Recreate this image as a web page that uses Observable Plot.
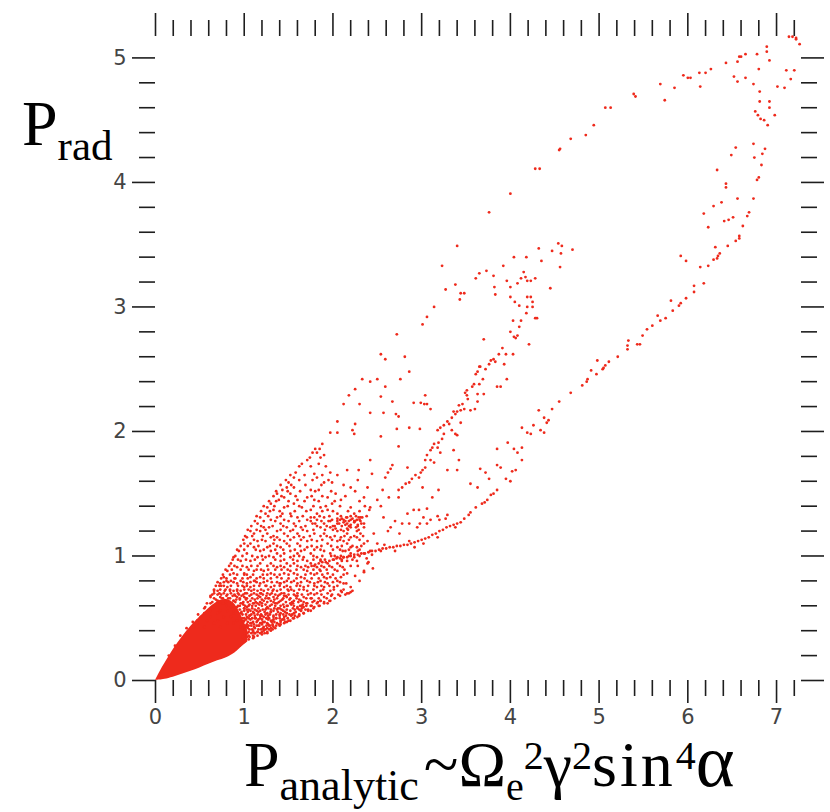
<!DOCTYPE html>
<html><head><meta charset="utf-8">
<script src="https://cdn.jsdelivr.net/npm/d3@7"></script>
<script src="https://cdn.jsdelivr.net/npm/@observablehq/plot@0.6"></script>
<style>
body{margin:0;background:#fff;}
#chart{width:830px;height:812px;}
</style></head><body><div id="chart"></div>
<script>
// ---- tick values ----
const xMajorTicks = [0,1,2,3,4,5,6,7];
const xMinorTicks = [0.2,0.4,0.6,0.8,1.2,1.4,1.6,1.8,2.2,2.4,2.6,2.8,3.2,3.4,3.6,3.8,4.2,4.4,4.6,4.8,5.2,5.4,5.6,5.8,6.2,6.4,6.6,6.8,7.2];
const yMajorTicks = [0,1,2,3,4,5];
const yMinorTicks = [0.2,0.4,0.6,0.8,1.2,1.4,1.6,1.8,2.2,2.4,2.6,2.8,3.2,3.4,3.6,3.8,4.2,4.4,4.6,4.8];

// ---- saturated core near the origin (x, lower edge, upper edge) ----
const coreX    = [0, 0.05, 0.1, 0.2, 0.3, 0.4, 0.5, 0.6, 0.7, 0.8, 0.9, 0.97, 1.04];
const coreLow  = [0, 0.003, 0.008, 0.025, 0.05, 0.075, 0.10, 0.13, 0.16, 0.18, 0.22, 0.27, 0.31];
const coreHigh = [0, 0.07, 0.13, 0.25, 0.35, 0.44, 0.51, 0.58, 0.64, 0.66, 0.62, 0.52, 0.40];

// ---- scattered cloud, read row by row: [y, [x...]] ----
const cloudRows = [
 [1.90,[1.88]],[1.83,[1.77,1.82]],[1.81,[1.90]],[1.77,[1.71,2.42]],[1.74,[1.65,1.84]],
 [1.69,[2.16,2.29]],[1.67,[1.58,1.97]],[1.66,[1.79,2.44]],[1.63,[1.56,1.82]],
 [1.59,[1.50,1.90,1.99]],[1.55,[1.48,1.56,2.20,2.39]],[1.53,[1.43,1.75,1.84]],
 [1.50,[1.37,1.52,2.03]],[1.47,[1.45,1.71,1.94,2.35]],[1.45,[1.39,1.60,1.79,2.09,2.50]],
 [1.42,[1.30,1.56,1.99]],[1.39,[1.26,1.45,1.65,1.86,2.20,2.42]],[1.37,[1.33,1.75,1.94,2.41]],
 [1.34,[1.24,1.43,1.52,1.82,2.05,2.24]],[1.31,[1.18,1.37,1.60,1.75,1.79,1.90,2.16,2.29,2.33]],
 [1.29,[1.30,1.45,1.71,1.82,1.99,2.12,2.20,2.27]],[1.26,[1.15,1.41,1.56,1.77,1.80,1.90,2.07,2.16,2.35]],
 [1.23,[1.22,1.28,1.48,1.64,1.86,1.97,2.20,2.26]],[1.20,[1.07,1.18,1.37,1.52,1.71,2.05,2.12]],
 [1.18,[1.11,1.26,1.45,1.60,1.79,1.90,2.16,2.31,2.46]],[1.15,[1.03,1.30,1.37,1.56,1.67,1.97,2.09,2.20,2.27]],
 [1.12,[1.15,1.24,1.45,1.71,1.82,2.05,2.12,2.39]],[1.10,[1.00,1.07,1.33,1.48,1.60,1.94,2.16,2.35,2.50]],
 [1.07,[1.11,1.26,1.41,1.71,1.82,2.05,2.20,2.27]],[1.04,[0.94,1.18,1.30,1.52,1.64,1.90,2.11,2.14,2.42,2.54]],
 [1.02,[1.03,1.37,1.45,1.60,1.75,1.97,2.20,2.35]],[0.99,[0.88,1.15,1.24,1.33,1.52,1.67,1.82,2.05,2.12,2.24]],
 [0.96,[0.96,1.07,1.41,1.60,1.71,1.86,2.16,2.27]],[0.94,[0.85,1.18,1.30,1.48,1.56,1.75,1.94,2.05,2.39]],
 [0.91,[0.92,1.03,1.37,1.45,1.64,1.82,1.90,1.99,2.11]],[0.88,[0.81,1.11,1.22,1.52,1.71,1.86,2.05,2.35]],
 [0.86,[0.88,1.00,1.30,1.45,1.56,1.75,1.82,1.94,2.16]],[0.83,[0.77,1.07,1.18,1.37,1.64,1.90,1.97,2.09]],
 [0.80,[0.85,0.96,1.11,1.26,1.48,1.56,1.71,1.86,2.05]],[0.78,[0.73,0.92,1.03,1.18,1.41,1.60,1.79,1.94,2.12]],
 [0.75,[0.81,1.00,1.07,1.30,1.45,1.52,1.67,1.82,1.90,2.01]],[0.72,[0.70,0.88,0.96,1.15,1.22,1.37,1.56,1.71,1.86,1.97,2.09]],
 [0.70,[0.66,0.77,0.85,1.03,1.11,1.26,1.45,1.60,1.75,1.82,1.94,2.16]],[0.67,[0.62,0.73,0.92,1.00,1.18,1.33,1.48,1.67,1.90]],
 [0.64,[0.70,0.81,0.88,1.07,1.22,1.30,1.41,1.56,1.64,1.79,1.86,1.97]],[0.62,[0.58,0.77,0.96,1.11,1.15,1.37,1.52,1.71,1.82,1.94]],
 [0.59,[0.56,0.66,0.85,0.92,1.03,1.26,1.45,1.60,1.67,1.79]],[0.56,[0.62,0.73,0.81,1.00,1.07,1.18,1.33,1.52,1.64,1.75]],
 [0.54,[0.55,0.70,0.88,0.96,1.11,1.26,1.41,1.48,1.56,1.67]],[0.51,[0.51,0.62,0.77,0.85,1.03,1.22,1.33,1.45,1.60]],
 [0.48,[0.47,0.58,0.70,0.92,1.00,1.15,1.30,1.41,1.52]],[0.46,[0.47,0.66,0.81,0.88,1.07,1.18,1.26,1.37,1.45]],
 [0.43,[0.43,0.55,0.73,0.96,1.03,1.11,1.22,1.33]]
];
// ---- second pass over the same cloud (rows between the first ones) ----
const cloudRows2 = [
 [1.86,[1.80,1.85]],[1.79,[1.74,1.86]],[1.72,[1.62,1.75,1.92]],[1.65,[1.52,1.68,1.88,2.05]],
 [1.61,[1.47,1.62,1.77,1.95,2.28]],[1.57,[1.41,1.53,1.69,1.87,2.12]],[1.52,[1.36,1.49,1.63,1.80,1.98,2.25]],
 [1.48,[1.33,1.42,1.58,1.76,1.88,2.14]],[1.44,[1.28,1.36,1.50,1.68,1.84,2.02,2.30]],
 [1.40,[1.22,1.34,1.49,1.62,1.78,1.92,2.08,2.36]],[1.36,[1.19,1.29,1.40,1.57,1.70,1.88,2.00,2.17,2.30]],
 [1.32,[1.14,1.27,1.41,1.53,1.66,1.85,1.96,2.09,2.20,2.38]],[1.28,[1.12,1.22,1.35,1.50,1.62,1.75,1.87,1.95,2.05,2.14,2.24,2.31]],
 [1.24,[1.08,1.19,1.32,1.44,1.58,1.69,1.82,1.93,2.02,2.10,2.18,2.28]],[1.21,[1.04,1.14,1.24,1.41,1.55,1.66,1.78,1.91,2.00,2.09,2.17,2.29]],
 [1.16,[1.01,1.09,1.21,1.33,1.49,1.62,1.74,1.86,1.93,2.02,2.13,2.24,2.34]],[1.13,[0.99,1.11,1.20,1.34,1.40,1.52,1.64,1.76,1.88,1.99,2.08,2.18,2.30]],
 [1.08,[0.96,1.04,1.16,1.29,1.37,1.51,1.63,1.76,1.87,1.98,2.10,2.22,2.32]],[1.05,[0.92,1.00,1.13,1.22,1.35,1.44,1.57,1.68,1.79,1.86,2.00,2.08,2.18,2.30]],
 [1.00,[0.90,0.98,1.09,1.20,1.28,1.41,1.56,1.62,1.78,1.88,1.98,2.09,2.18,2.30]],[0.97,[0.87,0.93,1.02,1.12,1.21,1.35,1.45,1.55,1.66,1.78,1.91,2.01,2.10,2.22]],
 [0.92,[0.83,0.89,0.98,1.08,1.15,1.26,1.33,1.41,1.52,1.60,1.69,1.79,1.87,1.96,2.08,2.20]],
 [0.89,[0.79,0.86,0.96,1.05,1.14,1.19,1.27,1.35,1.42,1.49,1.59,1.67,1.78,1.85,1.93,2.02,2.13]],
 [0.85,[0.76,0.84,0.92,1.03,1.10,1.21,1.26,1.34,1.40,1.50,1.60,1.69,1.79,1.88,2.00,2.12]],
 [0.82,[0.74,0.80,0.89,0.98,1.04,1.14,1.22,1.30,1.42,1.50,1.59,1.68,1.76,1.84,1.93,2.03]],
 [0.79,[0.70,0.77,0.82,0.88,0.99,1.07,1.14,1.22,1.31,1.37,1.45,1.53,1.64,1.74,1.83,1.91,2.00,2.08]],
 [0.76,[0.68,0.74,0.77,0.85,0.93,1.03,1.11,1.17,1.25,1.34,1.40,1.48,1.59,1.63,1.72,1.79,1.87,1.96,2.05]],
 [0.73,[0.66,0.73,0.79,0.84,0.92,1.00,1.05,1.11,1.19,1.27,1.33,1.41,1.49,1.53,1.62,1.67,1.78,1.89,2.01,2.12]],
 [0.69,[0.64,0.70,0.74,0.81,0.89,0.94,0.99,1.08,1.14,1.21,1.29,1.35,1.40,1.50,1.56,1.65,1.72,1.79,1.87,1.99,2.06]],
 [0.66,[0.66,0.76,0.84,0.95,1.03,1.09,1.15,1.24,1.27,1.37,1.44,1.52,1.59,1.70,1.76,1.84,1.93]],
 [0.63,[0.64,0.72,0.79,0.90,0.99,1.04,1.13,1.18,1.26,1.33,1.39,1.47,1.54,1.61,1.67,1.77,1.83,1.90]],
 [0.60,[0.88,0.95,1.01,1.09,1.13,1.20,1.29,1.35,1.41,1.49,1.56,1.63,1.70,1.76,1.85]],
 [0.57,[0.95,1.03,1.05,1.12,1.21,1.24,1.30,1.37,1.42,1.48,1.57,1.62,1.69,1.72]],
 [0.53,[0.98,1.02,1.08,1.15,1.19,1.24,1.29,1.36,1.44,1.51,1.54,1.62]],
 [0.50,[0.98,1.05,1.09,1.13,1.18,1.25,1.28,1.36,1.40,1.49,1.55]],
 [0.47,[0.99,1.04,1.10,1.14,1.21,1.23,1.31,1.34,1.41,1.48]],
 [0.44,[1.00,1.05,1.08,1.14,1.17,1.25,1.29,1.36,1.40]],
 [0.41,[1.01,1.06,1.09,1.16,1.19,1.24,1.28,1.32]],
 [0.38,[1.00,1.03,1.08,1.12,1.18,1.23]],
 [0.35,[0.98,1.02,1.06,1.11]]
];
// ---- densest part of the cloud, just right of the core ----
const denseRows = [
 [0.70,[0.93,1.01,1.19,1.31,1.42]],
 [0.68,[0.87,0.97,1.06,1.16,1.25,1.38,1.47,1.58]],
 [0.65,[0.91,1.02,1.12,1.20,1.34,1.43,1.51,1.62]],
 [0.61,[0.99,1.06,1.17,1.24,1.31,1.44,1.53,1.66]],
 [0.58,[1.00,1.09,1.16,1.27,1.34,1.40,1.55,1.65]],
 [0.55,[1.04,1.10,1.16,1.23,1.30,1.38,1.46,1.58]],
 [0.52,[1.06,1.12,1.20,1.27,1.33,1.40,1.47,1.57]],
 [0.49,[1.02,1.07,1.16,1.20,1.27,1.33,1.45]],
 [0.45,[1.03,1.11,1.20,1.27,1.32,1.39]],
 [0.42,[1.04,1.12,1.21,1.26,1.30]],
 [0.39,[1.05,1.10,1.15,1.20,1.26]]
];

// ---- dense fringe round the core ----
const fringePts = [[0.15,0.2],[0.22,0.28],[0.28,0.36],[0.35,0.42],[0.42,0.47],[0.48,0.53],[0.55,0.58],[0.62,0.62],[0.68,0.65],[0.75,0.66],[0.82,0.66],[0.88,0.64],[0.93,0.6],[0.97,0.55],[1.0,0.5],[1.02,0.44],[1.03,0.38],[1.0,0.34],[0.95,0.28],[0.9,0.25],
 [0.62,0.68],[0.66,0.72],[0.7,0.64],[0.72,0.7],[0.78,0.72],[0.8,0.68],[0.84,0.72],[0.86,0.62],[0.9,0.68],[0.92,0.72],[0.95,0.65],[0.98,0.62],[1.02,0.66],[1.05,0.6],[1.06,0.52],[1.08,0.46],[1.1,0.4],[1.12,0.5],[1.14,0.56],[1.16,0.44],[1.18,0.52],[1.2,0.46],[1.22,0.4],[1.25,0.5],[1.28,0.44],[1.3,0.55],[1.05,0.36],[1.1,0.36],[1.15,0.39],[0.98,0.42],[1.0,0.58],[0.88,0.56],[0.8,0.6],[0.76,0.62],[1.1,0.62],[1.2,0.62],[1.25,0.58],[1.32,0.48],[1.36,0.5],[1.4,0.53],[1.44,0.56],[1.48,0.6],[1.38,0.58],[1.35,0.62],[1.28,0.66],[1.18,0.7],[1.08,0.72],[0.98,0.76],[0.72,0.76],[0.8,0.8],[0.9,0.82],[1.0,0.85],[1.12,0.8],[1.24,0.76],[1.32,0.72],[1.45,0.68],[1.55,0.62],[1.6,0.58],[1.65,0.6],[1.7,0.62],[1.75,0.66],[1.6,0.68],[1.5,0.72],[1.4,0.78]];

// ---- lower edge of the cloud ----
const lowerEdgePts = [[1.0,0.31],[1.05,0.33],[1.1,0.34],[1.15,0.36],[1.2,0.37],[1.26,0.38],[1.3,0.40],[1.35,0.42],[1.41,0.45],[1.46,0.47],[1.5,0.48],[1.56,0.50],[1.62,0.52],[1.67,0.54],[1.72,0.56],[1.78,0.58],[1.84,0.60],[1.9,0.62],[1.96,0.64],[2.02,0.66],[2.08,0.68],[2.14,0.69],[2.2,0.71],
 [1.03,0.35],[1.12,0.38],[1.22,0.41],[1.32,0.44],[1.43,0.49],[1.53,0.52],[1.64,0.56],[1.75,0.60],[1.86,0.64],[1.98,0.68],[2.1,0.71],
 [2.15,0.78],[2.2,0.75],[2.25,0.84],[2.28,0.92],[2.3,0.8],[2.35,0.87],[2.4,0.95],[2.45,0.9],[2.22,0.72],[2.18,0.70]];

// ---- arm near y = 1.3 ----
const armPts = [[1.97,1.28],[2.0,1.24],[2.03,1.22],[2.05,1.26],[2.08,1.29],[2.1,1.30],[2.12,1.27],[2.14,1.25],[2.16,1.22],[2.18,1.28],[2.2,1.25],[2.22,1.30],[2.24,1.27],[2.25,1.28],[2.27,1.20],[2.28,1.25],[2.3,1.29],[2.31,1.31],[2.32,1.26],[2.35,1.23],[2.05,1.30],[2.15,1.31],[2.26,1.32],
 [2.84,1.71],[2.91,1.37],[3.02,1.31],[2.57,1.31],[2.70,1.28],[2.62,1.20],[2.75,1.18]];

// ---- arc near y = 1 and its rise to the lower band ----
const arcPts = [[1.72,0.91],[1.76,0.92],[1.80,0.93],[1.84,0.94],[1.88,0.95],[1.92,0.95],[1.96,0.96],[2.00,0.97],[2.04,0.98],[2.08,0.98],[2.12,0.99],[2.16,0.99],[2.20,1.00],[2.24,1.01],[2.28,1.01],[2.32,1.02],[2.36,1.02],[2.40,1.03],[2.44,1.04],[2.48,1.04],[2.52,1.05],[2.56,1.06],[2.60,1.06],[2.64,1.07],[2.68,1.07],[2.72,1.08],[2.76,1.08],[2.80,1.09],[2.84,1.09],[2.88,1.10],[2.92,1.11],[2.96,1.12],[3.00,1.13],[3.04,1.14],[3.08,1.15],[3.12,1.17],[3.16,1.18],[3.20,1.20],[3.24,1.21],[3.28,1.23],[3.32,1.24],
 [1.86,0.97],[2.02,1.00],[2.10,0.96],[2.28,1.04],[2.44,1.01],[2.58,1.09],[2.70,1.04],[2.86,1.12],[3.02,1.10],[3.18,1.15],[2.38,0.98],[2.92,1.07],
 [2.65,1.23],[2.78,1.26],[2.86,1.26],[2.95,1.23],[2.98,1.26],[3.06,1.26],[3.10,1.29],[3.18,1.32],[3.20,1.29],[3.27,1.30],[3.29,1.33],[3.36,1.25],[3.38,1.23],[3.40,1.26],[3.44,1.27],[3.48,1.30],[3.53,1.33],[3.55,1.35],[3.61,1.39],[3.68,1.42],[3.71,1.43],[3.74,1.45],[3.78,1.49],[3.81,1.50],[3.85,1.53]];

// ---- lower right band ----
const lowerBandPts = [[3.76,1.62],[3.95,1.62],[4.00,1.60],[4.06,1.69],[4.02,1.68],[4.13,1.77],[4.04,1.86],[4.08,1.83],[4.13,1.87],[3.85,1.86],[3.85,1.73],[3.89,1.71],[3.97,1.91],[3.66,1.70],[3.72,1.67],[4.13,2.03],[4.19,1.99],[4.23,1.98],[4.26,2.05],[4.32,2.17],[4.38,2.11],[4.41,2.07],[4.43,2.09],[4.34,2.01],[4.38,1.99],[4.47,2.18],[4.55,2.24],[4.68,2.31],
 [4.81,2.37],[4.87,2.42],[4.86,2.40],[4.97,2.46],[4.91,2.49],[4.98,2.57],[5.04,2.50],[5.05,2.51],[5.07,2.53],[5.11,2.56],[5.21,2.60],[5.32,2.66],[5.32,2.69],[5.33,2.73],[5.43,2.70],[5.46,2.70],[5.49,2.77],[5.54,2.82],[5.60,2.85],[5.66,2.93],[5.69,2.89],[5.75,2.91],[5.83,2.97],[5.81,3.05],[5.90,3.01],[5.92,3.03],[5.98,3.07],[6.07,3.12],[6.07,3.17],[6.18,3.19],[6.14,3.32],[6.23,3.33],[6.29,3.38],[6.33,3.39],[6.34,3.41],[6.36,3.43],[6.31,3.48],[6.45,3.49],[6.54,3.53],[6.58,3.55],[6.58,3.57],[6.62,3.65],[6.67,3.73],[6.69,3.76],[6.41,3.69],[6.46,3.70],[6.51,3.72],[6.23,3.64],[6.18,3.75],[6.29,3.81],[6.38,3.84],[6.56,3.87],[6.74,3.87],[6.43,3.99],[6.43,3.96],[6.33,4.10],[6.78,4.02],[6.80,4.04],[6.83,4.14],[6.75,4.20],[6.84,4.23],[6.87,4.27],[6.74,4.31],[6.54,4.28],[6.49,4.22],[5.92,3.41],[5.98,3.37]];

// ---- top right corner ----
const topRightPts = [[6.76,4.57],[6.79,4.54],[6.82,4.51],[6.86,4.50],[6.90,4.46],[6.98,4.54],[6.81,4.65],[6.92,4.65],[6.92,4.60],[6.52,4.85],[6.56,4.81],[6.65,4.84],[6.74,4.79],[6.78,5.03],[6.80,4.91],[6.81,4.73],[6.89,5.09],[6.89,5.05],[6.92,4.98],[7.01,4.77],[7.09,4.76],[7.11,4.90],[7.20,4.90],[7.16,4.83],[7.14,5.17],[7.22,5.16],[7.18,5.17],[7.22,5.15],[7.26,5.11]];

// ---- outer upper envelope ----
const envelopePts = [[6.43,4.96],[6.56,4.97],[6.58,5.01],[6.60,5.01],[6.65,5.03],[6.26,4.91],[6.20,4.88],[6.13,4.88],[6.14,4.77],[6.03,4.84],[6.00,4.84],[5.95,4.86],[5.85,4.76],[5.74,4.66],[5.69,4.79],[5.39,4.71],[5.41,4.69],[5.07,4.60],[5.13,4.60],[4.94,4.46],[4.85,4.38],[4.68,4.35],[4.55,4.26],[4.56,4.27],[4.28,4.11],[4.33,4.11],[4.00,3.91],[3.76,3.76],
 [3.40,3.49],[3.23,3.33],[3.27,3.14],[3.38,3.18],[3.44,3.11],[3.43,3.06],[3.48,3.11],[3.14,3.00],[3.06,2.92],[3.01,2.86],[2.72,2.78],[2.54,2.62],[2.59,2.58],[2.81,2.60],[2.86,2.48],[2.76,2.42],[3.61,3.23],[3.65,3.27]];

// ---- inner loop ----
const innerLoopPts = [[4.04,3.40],[4.18,3.40],[4.32,3.47],[4.35,3.37],[4.47,3.45],[4.54,3.51],[4.58,3.49],[4.57,3.43],[4.70,3.46],[4.56,3.32],[3.92,3.33],[3.81,3.25],[3.73,3.29],[3.96,3.21],[4.00,3.16],[4.08,3.19],[4.12,3.23],[4.15,3.28],[4.17,3.24],[4.19,3.21],[4.23,3.21],[4.28,3.23],[3.82,3.16],[3.83,3.10],[4.00,3.08],[4.05,3.04],[4.10,3.01],[4.19,3.08],[4.23,3.08],[4.25,3.04],[4.19,3.00],[4.25,3.00],[4.18,2.95],[4.28,2.91],[4.30,2.91],[4.45,3.15],[4.03,2.89],[4.12,2.89],[4.10,2.84],[4.00,2.80],[4.04,2.76],[4.06,2.75],[4.08,2.77],[4.21,2.70],[3.70,2.74],[3.91,2.67],[3.95,2.62],[4.03,2.62],[3.93,2.54],[3.87,2.62],[3.81,2.58],[3.83,2.56],[3.78,2.57],[3.76,2.54],[3.72,2.50],[3.66,2.52],[3.85,2.36],[3.89,2.36],[3.96,2.42],[3.69,2.42],[3.70,2.30]];

// ---- middle band ----
const midBandPts = [[2.67,1.73],[2.65,1.70],[2.62,1.67],[2.59,1.63],[2.93,1.65],[2.89,1.62],[2.86,1.59],[2.82,1.58],[2.78,1.55],[2.74,1.53],[3.04,1.71],[3.01,1.69],[2.99,1.67],[2.97,1.63],[3.06,1.81],[3.04,1.77],[3.10,1.77],[3.14,1.75],[3.14,1.90],[3.12,1.87],[3.10,1.85],[3.18,1.87],[3.21,1.83],[3.19,1.91],[3.25,1.98],[3.23,1.94],[3.29,2.08],[3.25,2.05],[3.21,2.03],[3.18,2.01],[3.31,2.06],[3.34,2.01],[3.38,1.98],[3.40,1.97],[3.44,2.07],[3.48,2.18],[3.40,2.16],[3.44,2.17],[3.38,2.14],[3.36,2.16],[3.34,2.11],[3.52,2.26],[3.46,2.22],[3.42,2.21],[3.63,2.24],[3.60,2.18],[3.55,2.17],[3.51,2.33],[3.49,2.31],[3.51,2.29],[3.63,2.30],[3.59,2.38],[3.57,2.36],[3.65,2.38],[3.63,2.48],[3.61,2.46],[3.65,2.52],
 [2.56,1.53],[2.54,1.40],[2.63,1.47],[2.74,1.47],[3.01,1.55],[2.84,1.34],[2.97,1.37],[3.06,1.38],[3.12,1.47],[3.19,1.53],[3.29,1.69],[3.40,1.69],[3.36,1.85],[3.42,1.77],[3.55,1.58],[3.63,1.55]];

// ---- sparse upper left ----
const sparsePts = [[2.33,2.42],[2.42,2.40],[2.50,2.42],[2.25,2.34],[2.59,2.36],[2.18,2.29],[2.54,2.28],[2.12,2.22],[2.30,2.22],[2.67,2.24],[3.04,2.29],[3.06,2.22],[3.03,2.22],[2.42,2.15],[2.57,2.15],[2.71,2.14],[2.74,2.12],[2.91,2.23],[2.99,2.23],[3.10,2.18],[2.05,2.08],[2.25,2.06],[2.86,2.03],[1.97,1.99],[2.05,1.99],[2.22,2.01],[2.24,1.98],[2.54,1.96],[2.72,2.02],[2.74,1.88],[2.98,2.02]];

const RED = "#ee2a1c";
const points = [];
for (const rows of [cloudRows, cloudRows2, denseRows]) for (const [y, xs] of rows) for (const x of xs) points.push({x, y});
for (const arr of [fringePts, lowerEdgePts, armPts, arcPts, lowerBandPts, topRightPts, envelopePts, innerLoopPts, midBandPts, sparsePts])
  for (const [x, y] of arr) points.push({x, y});
const core = coreX.map((x, i) => ({x, lo: coreLow[i], hi: coreHigh[i]}));

const tickStroke = "#1e1e1e";
const noText = () => "";
const plot = Plot.plot({
  width: 830, height: 812,
  marginLeft: 155, marginRight: 30, marginTop: 35, marginBottom: 132,
  x: {domain: [0, 7.27]},
  y: {domain: [0, 5.18]},
  style: {fontFamily: "'DejaVu Sans', sans-serif", fontSize: "21px", background: "#fff", color: "#222"},
  marks: [
    Plot.areaY(core, {x: "x", y1: "lo", y2: "hi", fill: RED, curve: "basis"}),
    Plot.dot(points, {x: "x", y: "y", r: 1.4, fill: RED, stroke: null}),
    Plot.axisX(xMajorTicks, {anchor: "bottom", tickSize: 23, tickPadding: 6, tickFormat: d => String(d), label: null, stroke: tickStroke, strokeWidth: 1.6, fill: "#444"}),
    Plot.axisX(xMinorTicks, {anchor: "bottom", tickSize: 16, tickFormat: noText, label: null, stroke: tickStroke, strokeWidth: 1.6}),
    Plot.axisX(xMajorTicks, {anchor: "top", tickSize: 23, tickFormat: noText, label: null, stroke: tickStroke, strokeWidth: 1.6}),
    Plot.axisX(xMinorTicks, {anchor: "top", tickSize: 16, tickFormat: noText, label: null, stroke: tickStroke, strokeWidth: 1.6}),
    Plot.axisY(yMajorTicks, {anchor: "left", tickSize: 23, tickPadding: 6, tickFormat: d => String(d), label: null, stroke: tickStroke, strokeWidth: 1.6, fill: "#444"}),
    Plot.axisY(yMinorTicks, {anchor: "left", tickSize: 16, tickFormat: noText, label: null, stroke: tickStroke, strokeWidth: 1.6}),
    Plot.axisY(yMajorTicks, {anchor: "right", tickSize: 23, tickFormat: noText, label: null, stroke: tickStroke, strokeWidth: 1.6}),
    Plot.axisY(yMinorTicks, {anchor: "right", tickSize: 16, tickFormat: noText, label: null, stroke: tickStroke, strokeWidth: 1.6})
  ]
});

const svg = d3.select(plot);
const serif = "'Liberation Serif', 'Times New Roman', serif";
// y-axis title
const yt = svg.append("text").attr("x", 22).attr("y", 145).attr("text-anchor", "start").attr("font-family", serif).attr("font-size", 64).attr("fill", "#000");
yt.append("tspan").text("P");
yt.append("tspan").attr("font-size", 43).attr("dy", 15).text("rad");
// x-axis title
const xt = svg.append("text").attr("x", 244).attr("y", 786).attr("text-anchor", "start").attr("font-family", serif).attr("font-size", 64).attr("fill", "#000");
xt.append("tspan").text("P");
xt.append("tspan").attr("font-size", 44).attr("dy", 14).text("analytic");
xt.append("tspan").attr("dy", -14).attr("dx", 5).text("~Ω");
xt.append("tspan").attr("font-size", 40).attr("dy", 14).text("e");
xt.append("tspan").attr("font-size", 40).attr("dy", -31).text("2");
xt.append("tspan").attr("dy", 17).text("γ");
xt.append("tspan").attr("font-size", 40).attr("dy", -17).text("2");
xt.append("tspan").attr("font-size", 64).attr("dy", 17).attr("letter-spacing", 3).text("sin");
xt.append("tspan").attr("font-size", 40).attr("dy", -17).text("4");
xt.append("tspan").attr("font-size", 74).attr("dy", 17).text("α");

document.getElementById("chart").appendChild(plot);
</script></body></html>
